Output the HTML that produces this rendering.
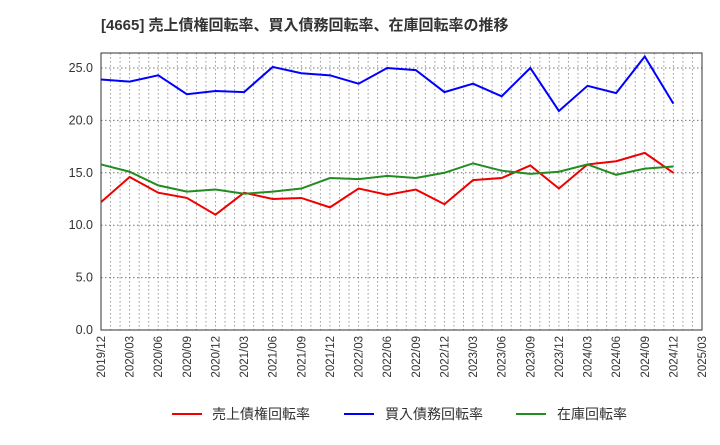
<!DOCTYPE html>
<html><head><meta charset="utf-8"><style>
body{margin:0;background:#fff;font-family:"Liberation Sans","Noto Sans CJK JP",sans-serif;}
</style></head><body>
<svg width="720" height="440" xmlns="http://www.w3.org/2000/svg">
<text x="101" y="30" font-size="15" font-weight="bold" fill="#333" font-family="Liberation Sans, Noto Sans CJK JP, sans-serif">[4665]  売上債権回転率、買入債務回転率、在庫回転率の推移</text>
<g id="grid"></g>
<rect x="101" y="53" width="601" height="277" fill="none" stroke="#333"/>
<g id="axes"></g>
<g id="series"></g>
<g font-size="14" fill="#333" font-family="Liberation Sans, Noto Sans CJK JP, sans-serif">
<line x1="172" y1="414" x2="202" y2="414" stroke="#e00" stroke-width="2"/><text x="212" y="419">売上債権回転率</text>
<line x1="344" y1="414" x2="374" y2="414" stroke="#00f" stroke-width="2"/><text x="385" y="419">買入債務回転率</text>
<line x1="516" y1="414" x2="546" y2="414" stroke="#228b22" stroke-width="2"/><text x="557" y="419">在庫回転率</text>
</g>
</svg>
<script>
const xLabels=["2019/12","2020/03","2020/06","2020/09","2020/12","2021/03","2021/06","2021/09","2021/12","2022/03","2022/06","2022/09","2022/12","2023/03","2023/06","2023/09","2023/12","2024/03","2024/06","2024/09","2024/12","2025/03"];
const yTicks=[0,5,10,15,20,25];
const receivables=[12.2,14.6,13.1,12.6,11.0,13.1,12.5,12.6,11.7,13.5,12.9,13.4,12.0,14.3,14.5,15.7,13.5,15.8,16.1,16.9,15.0];
const payables=[23.9,23.7,24.3,22.5,22.8,22.7,25.1,24.5,24.3,23.5,25.0,24.8,22.7,23.5,22.3,25.0,20.9,23.3,22.6,26.1,21.6];
const inventory=[15.8,15.1,13.8,13.2,13.4,13.0,13.2,13.5,14.5,14.4,14.7,14.5,15.0,15.9,15.2,14.9,15.1,15.8,14.8,15.4,15.6];
const NS="http://www.w3.org/2000/svg";
const L=101,R=702,T=53,B=330,YMAX=26.43;
const nQ=xLabels.length-1;
const x=i=>L+(R-L)*i/nQ;
const y=v=>B-(B-T)*v/YMAX;
function mk(tag,attrs,parent){const e=document.createElementNS(NS,tag);for(const k in attrs)e.setAttribute(k,attrs[k]);document.getElementById(parent).appendChild(e);return e;}
for(let m=1;m<nQ*3;m++){const xx=L+(R-L)*m/(nQ*3);
const g=mk('line',{x1:xx,x2:xx,y1:T,y2:B,stroke:'#999','stroke-dasharray':'1.5,2.5'},'grid');

}
yTicks.forEach(v=>{if(v>0){const g=mk('line',{x1:L,x2:R,y1:y(v),y2:y(v),stroke:'#777','stroke-dasharray':'1.5,2.5'},'grid');

}
const t=mk('text',{x:L-8,y:y(v)+4,'text-anchor':'end','font-size':'12.5',fill:'#333'},'axes');t.textContent=v.toFixed(1);

});
xLabels.forEach((s,i)=>{const t=mk('text',{transform:`translate(${x(i)+4},${B+6}) rotate(-90)`,'text-anchor':'end','font-size':'11.5',fill:'#333'},'axes');t.textContent=s;

});
[[receivables,'#e00','receivables-line'],[payables,'#00f','payables-line'],[inventory,'#228b22','inventory-line']].forEach(([d,c,n])=>{
const p=mk('polyline',{points:d.map((v,i)=>x(i)+','+y(v)).join(' '),fill:'none',stroke:c,'stroke-width':2},'series');

});
</script>
</body></html>
